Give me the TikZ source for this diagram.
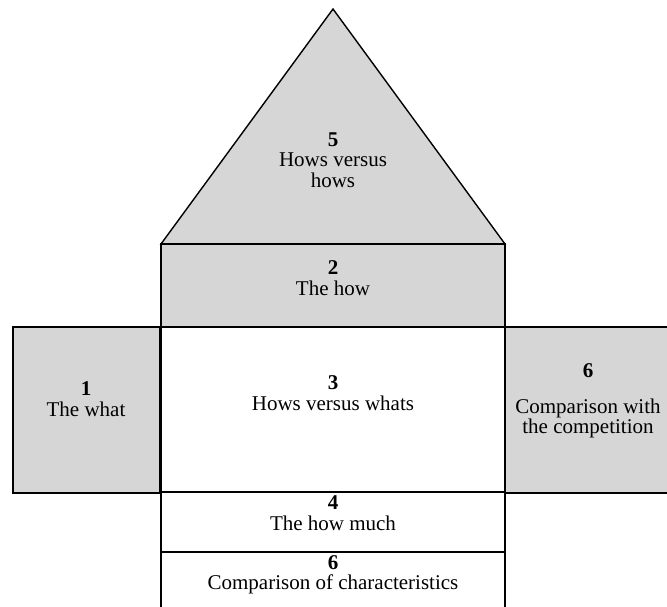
\documentclass[tikz,border=0pt]{standalone}
\usepackage{fontspec}
\setmainfont{Liberation Serif}
\definecolor{boxgray}{RGB}{214,214,214}
\begin{document}
\begin{tikzpicture}[x=1pt,y=-1pt,line width=1.4pt,
  part/.style={draw=black,rectangle,inner sep=0pt,outer sep=0pt,anchor=north west},
  shaded/.style={part,fill=boxgray},
  plain/.style={part,fill=white},
  lbl/.style={align=center,inner sep=0pt,font=\fontsize{21}{20.5}\selectfont}]
\useasboundingbox (0,0) rectangle (667,607);
% roof
\coordinate (apex) at (333,9);
\coordinate (roofL) at (161,244);
\coordinate (roofR) at (505,244);
\filldraw[fill=boxgray,line join=miter] (roofL) -- (apex) -- (roofR) -- cycle;
% boxes
\node[shaded,minimum width=344pt,minimum height=83pt] (b2) at (161,244) {};
\node[shaded,minimum width=147pt,minimum height=166pt] (b1) at (13,327) {};
\node[shaded,minimum width=163pt,minimum height=166pt] (b6r) at (505,327) {};
\node[plain,minimum width=344pt,minimum height=165pt] (b3) at (161,327) {};
\node[plain,minimum width=344pt,minimum height=60pt] (b4) at (161,492) {};
\node[plain,minimum width=344pt,minimum height=70pt] (b6b) at (161,552) {};
% labels
\node[lbl] (t5) at (333,160) {\textbf{5}\\Hows versus\\hows};
\node[lbl] (t2) at (333,278) {\textbf{2}\\The how};
\node[lbl] (t1) at (86,399) {\textbf{1}\\The what};
\node[lbl] (t3) at (333,393) {\textbf{3}\\Hows versus whats};
\node[lbl] (t6r) at (588,401) {\textbf{6}\\[15pt]Comparison with\\the competition};
\node[lbl] (t4) at (333,513) {\textbf{4}\\The how much};
\node[lbl] (t6b) at (333,575) {\textbf{6}\\Comparison of characteristics};
\end{tikzpicture}
\end{document}
